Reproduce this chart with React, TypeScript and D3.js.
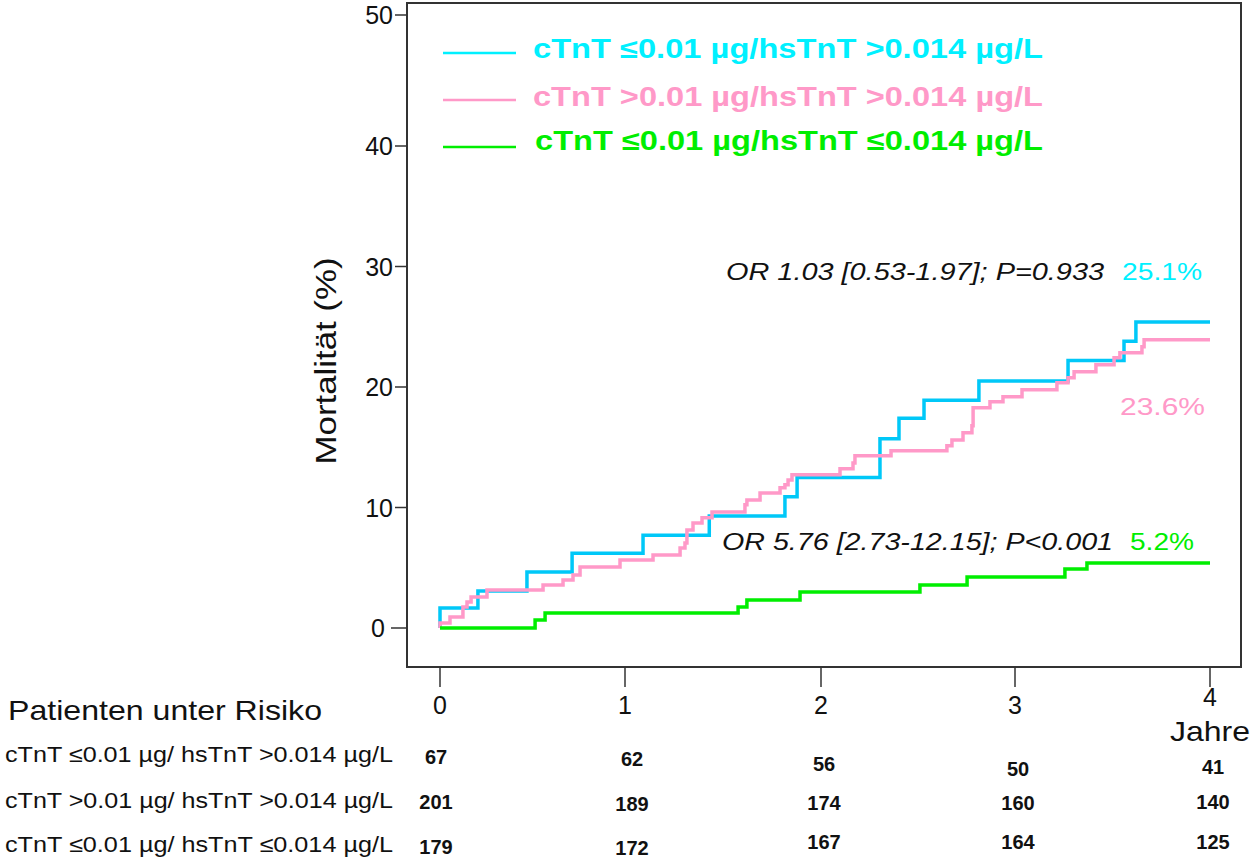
import React from "react";
import * as d3 from "d3";

// ---------- data ----------
const yearTicks = [0, 1, 2, 3, 4];
const yTicks = [0, 10, 20, 30, 40, 50];

const seriesNames = [
  "cTnT \u22640.01 \u00b5g/hsTnT >0.014 \u00b5g/L",
  "cTnT >0.01 \u00b5g/hsTnT >0.014 \u00b5g/L",
  "cTnT \u22640.01 \u00b5g/hsTnT \u22640.014 \u00b5g/L",
];
const rowLabels = [
  "cTnT \u22640.01 \u00b5g/ hsTnT >0.014 \u00b5g/L",
  "cTnT >0.01 \u00b5g/ hsTnT >0.014 \u00b5g/L",
  "cTnT \u22640.01 \u00b5g/ hsTnT \u22640.014 \u00b5g/L",
];

// Kaplan-Meier step curves (time in years, mortality %)
const cyanTimes = [0, 0, 0.205, 0.47, 0.714, 1.092, 1.43, 1.816, 1.878, 2.304, 2.402, 2.531, 2.814, 3.272, 3.559, 3.62];
const cyanValues = [0, 1.66, 3.07, 4.65, 6.2, 7.7, 9.3, 10.9, 12.5, 15.7, 17.4, 18.9, 20.5, 22.2, 23.8, 25.4];

const pinkTimes = [0, 0, 0.054, 0.124, 0.146, 0.168, 0.254, 0.557, 0.665, 0.719, 0.757, 0.973, 1.143, 1.281, 1.306, 1.316, 1.347, 1.393, 1.444, 1.612, 1.622, 1.689, 1.791, 1.816, 1.832, 1.852, 2.098, 2.165, 2.175, 2.361, 2.649, 2.675, 2.732, 2.778, 2.784, 2.871, 2.938, 3.036, 3.215, 3.272, 3.303, 3.415, 3.508, 3.538, 3.651, 3.662];
const pinkValues = [0, 0.42, 0.91, 1.74, 2.16, 2.57, 3.16, 3.57, 3.99, 4.4, 5.07, 5.65, 6.06, 6.64, 7.06, 8.14, 8.72, 9.14, 9.63, 10.22, 10.63, 11.21, 11.63, 11.88, 12.29, 12.71, 13.21, 13.7, 14.29, 14.7, 15.12, 15.61, 16.2, 16.78, 18.27, 18.77, 19.19, 19.77, 20.35, 20.76, 21.26, 21.84, 22.43, 22.84, 23.34, 23.92];

const greenTimes = [0, 0.514, 0.568, 1.577, 1.622, 1.893, 2.51, 2.753, 3.256, 3.369];
const greenValues = [0, 0.66, 1.25, 1.74, 2.33, 2.99, 3.57, 4.24, 4.9, 5.4];

const endTime = 4;

const atRiskCyan = [67, 62, 56, 50, 41];
const atRiskPink = [201, 189, 174, 160, 140];
const atRiskGreen = [179, 172, 167, 164, 125];

const orLabels = ["OR 1.03 [0.53-1.97]; P=0.933", "OR 5.76 [2.73-12.15]; P<0.001"];
const finalLabels = ["25.1%", "23.6%", "5.2%"];

// ---------- styles ----------
const CURVE_CYAN = "#00c8f8";
const TEXT_CYAN = "#00f0ff";
const PINK = "#ff99c8";
const GREEN = "#00ee00";
const FONT = "'Liberation Sans', Arial, sans-serif";

// small manual vertical nudges for the at-risk numbers (layout only)
const rowNudge = [
  [0, 2, 7, 12, 10],
  [0, 2, 1, 1, 0],
  [5, 6, 0, 0, 0],
];
const colNudge = [-4, 7, 3, 3, 3];

export default function App() {
  const x = d3.scaleLinear().domain([0, 1, 2, 3, 4]).range([440, 625, 821, 1015, 1210]);
  const y = d3.scaleLinear().domain([0, 40, 50]).range([628, 146, 15]);

  const line = d3
    .line<[number, number]>()
    .x((d) => x(d[0]))
    .y((d) => y(d[1]))
    .curve(d3.curveStepAfter);

  const mk = (t: number[], v: number[]) => {
    const pts: [number, number][] = t.map((tt, i) => [tt, v[i]]);
    pts.push([endTime, v[v.length - 1]]);
    return line(pts) || "";
  };

  const series = [
    { d: mk(cyanTimes, cyanValues), color: CURVE_CYAN },
    { d: mk(pinkTimes, pinkValues), color: PINK },
    { d: mk(greenTimes, greenValues), color: GREEN },
  ];

  const legendColors = [TEXT_CYAN, PINK, GREEN];
  const legendY = [53, 100, 147];
  const legendTextY = [58, 106, 150];

  const frame = { left: 407, top: 3, right: 1241, bottom: 667 };
  const atRisk = [atRiskCyan, atRiskPink, atRiskGreen];
  const rowBase = [764, 809, 849];
  const labelBase = [762, 808, 852];

  return (
    <svg
      width={1251}
      height={858}
      style={{ position: "absolute", left: 0, top: 0, background: "#fff" }}
      fontFamily={FONT}
    >
      <rect x={0} y={0} width={1251} height={858} fill="#fff" />
      {/* frame */}
      <rect
        x={frame.left}
        y={frame.top}
        width={frame.right - frame.left}
        height={frame.bottom - frame.top}
        fill="none"
        stroke="#333"
        strokeWidth={2}
      />
      {/* y ticks */}
      {yTicks.map((t) => (
        <g key={"y" + t}>
          <line x1={t === 0 ? 391 : 395} x2={frame.left} y1={y(t)} y2={y(t)} stroke="#333" strokeWidth={1.5} />
          <text x={t === 0 ? 385 : 393} y={y(t) + 9} textAnchor="end" fontSize={25} fill="#111">
            {t}
          </text>
        </g>
      ))}
      {/* x ticks */}
      {yearTicks.map((t) => (
        <g key={"x" + t}>
          <line x1={x(t)} x2={x(t)} y1={frame.bottom} y2={687} stroke="#333" strokeWidth={1.5} />
          <text x={x(t)} y={t === 4 ? 706 : 714} textAnchor="middle" fontSize={25} fill="#111">
            {t}
          </text>
        </g>
      ))}
      <text x={x(4)} y={741} textAnchor="middle" fontSize={28} fill="#111" textLength={80} lengthAdjust="spacingAndGlyphs">
        Jahre
      </text>
      {/* y label */}
      <text
        transform={`translate(336, 361) rotate(-90)`}
        textAnchor="middle"
        fontSize={30}
        fill="#111"
        textLength={207}
        lengthAdjust="spacingAndGlyphs"
      >
        Mortalität (%)
      </text>
      {/* curves */}
      {series.map((s, i) => (
        <path key={i} d={s.d} fill="none" stroke={s.color} strokeWidth={3.5} />
      ))}
      {/* legend */}
      {seriesNames.map((n, i) => (
        <g key={"lg" + i}>
          <line x1={443} x2={516} y1={legendY[i]} y2={legendY[i]} stroke={legendColors[i]} strokeWidth={2.5} />
          <text
            x={i === 2 ? 535 : 533}
            y={legendTextY[i]}
            fontSize={27}
            fontWeight="bold"
            fill={legendColors[i]}
            textLength={i === 2 ? 508 : 510}
            lengthAdjust="spacingAndGlyphs"
          >
            {n}
          </text>
        </g>
      ))}
      {/* annotations */}
      <text x={726} y={280} fontSize={24} fontStyle="italic" fill="#111" textLength={378} lengthAdjust="spacingAndGlyphs">
        {orLabels[0]}
      </text>
      <text x={1122} y={280} fontSize={24} fill={TEXT_CYAN} textLength={80} lengthAdjust="spacingAndGlyphs">
        {finalLabels[0]}
      </text>
      <text x={1120} y={415} fontSize={24} fill={PINK} textLength={85} lengthAdjust="spacingAndGlyphs">
        {finalLabels[1]}
      </text>
      <text x={722} y={550} fontSize={24} fontStyle="italic" fill="#111" textLength={391} lengthAdjust="spacingAndGlyphs">
        {orLabels[1]}
      </text>
      <text x={1130} y={550} fontSize={24} fill={GREEN} textLength={64} lengthAdjust="spacingAndGlyphs">
        {finalLabels[2]}
      </text>
      {/* at-risk table */}
      <text x={8} y={720} fontSize={28} fill="#111" textLength={314} lengthAdjust="spacingAndGlyphs">
        Patienten unter Risiko
      </text>
      {rowLabels.map((r, i) => (
        <text key={"rl" + i} x={5} y={labelBase[i]} fontSize={22} fill="#111" textLength={388} lengthAdjust="spacingAndGlyphs">
          {r}
        </text>
      ))}
      {atRisk.map((row, i) =>
        row.map((v, j) => (
          <text
            key={`n${i}-${j}`}
            x={x(yearTicks[j]) + colNudge[j]}
            y={rowBase[i] + rowNudge[i][j]}
            textAnchor="middle"
            fontSize={20}
            fontWeight="bold"
            fill="#111"
          >
            {v}
          </text>
        ))
      )}
    </svg>
  );
}
